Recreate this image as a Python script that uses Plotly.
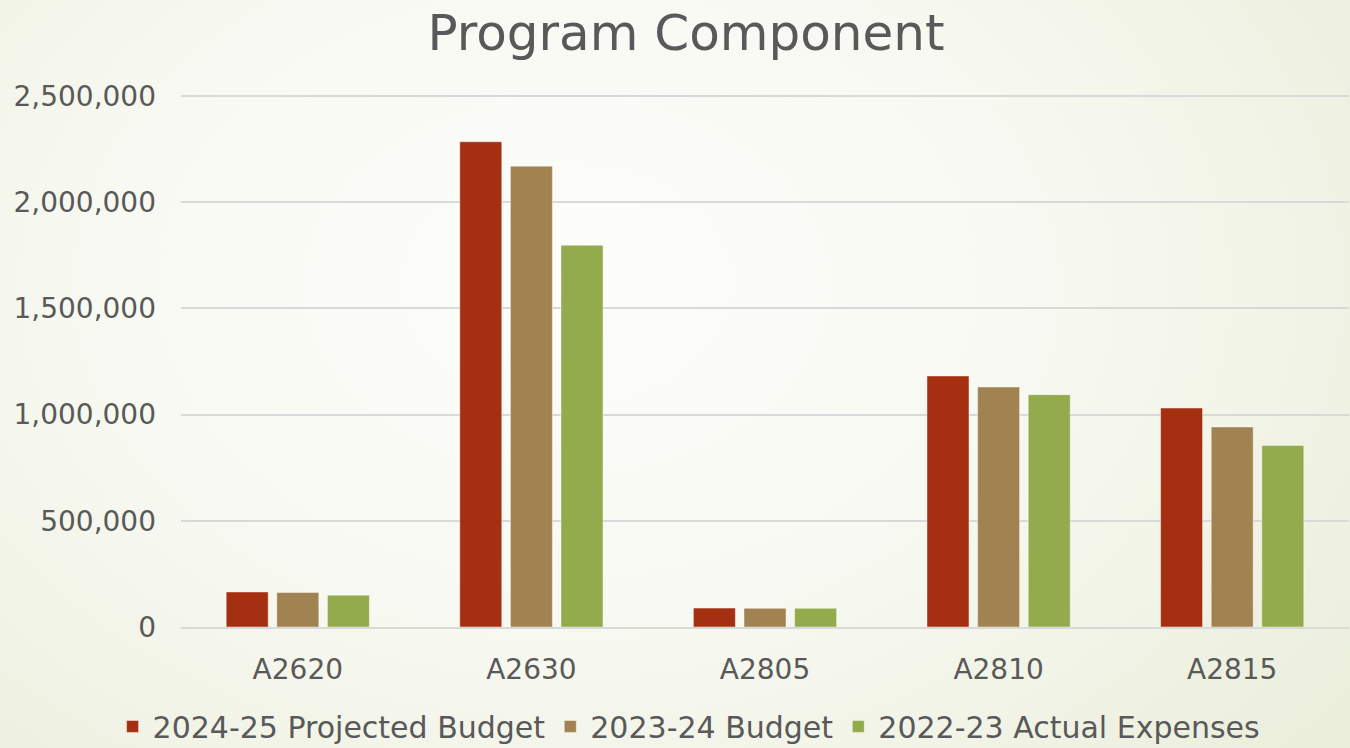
import plotly.graph_objects as go
import base64

categories = ["A2620", "A2630", "A2805", "A2810", "A2815"]
series_names = ["2024-25 Projected Budget", "2023-24 Budget", "2022-23 Actual Expenses"]
projected_2024_25 = [165000, 2285000, 89000, 1182000, 1031000]
budget_2023_24 = [163000, 2170000, 88000, 1130000, 942000]
actual_2022_23 = [150000, 1798000, 88000, 1094000, 855000]
y_ticks = [0, 500000, 1000000, 1500000, 2000000, 2500000]

colors = ["#A42F11", "#A08350", "#93AB4D"]
W, H = 1350, 748
L, R, T, B = 181, 1, 95, 121
pw, ph = W - L - R, H - T - B

svg = f'''<svg xmlns="http://www.w3.org/2000/svg" width="{W}" height="{H}" viewBox="0 0 {W} {H}" preserveAspectRatio="none">
<defs><radialGradient id="g" cx="0.42" cy="0.38" r="0.75" gradientUnits="objectBoundingBox" gradientTransform="translate(0.42 0.38) scale(1 1.3) translate(-0.42 -0.38)">
<stop offset="0" stop-color="#FDFDFB"/><stop offset="0.45" stop-color="#F8F9F2"/><stop offset="1" stop-color="#EAEEDA"/></radialGradient></defs>
<rect width="{W}" height="{H}" fill="url(#g)"/></svg>'''
src = "data:image/svg+xml;base64," + base64.b64encode(svg.encode()).decode()

font = "DejaVu Sans"
txt = "#595959"

fig = go.Figure()
for name, vals, c in zip(series_names, [projected_2024_25, budget_2023_24, actual_2022_23], colors):
    fig.add_trace(go.Bar(x=categories, y=vals, name=name, marker=dict(color=c, line=dict(color="rgba(255,255,255,0.45)", width=1))))

fig.update_layout(
    width=W, height=H, autosize=False,
    margin=dict(l=L, r=R, t=T, b=B, autoexpand=False),
    paper_bgcolor="#F8F9F2",
    plot_bgcolor="rgba(0,0,0,0)",
    barmode="group", bargap=0.35, bargroupgap=0.17,
    title=dict(text="Program Component", x=686 / W, xanchor="center", xref="container", y=1 - 32 / H, yanchor="middle", yref="container",
               font=dict(family=font, size=50, color=txt)),
    font=dict(family=font, color=txt),
    xaxis=dict(tickfont=dict(size=28, color=txt), showline=True, linecolor="#D9D9D9", linewidth=2, ticks="", ticklabelstandoff=16),
    yaxis=dict(range=[0, 2505000], tickvals=y_ticks, tickformat=",d", tickfont=dict(size=28, color=txt),
               gridcolor="#D9D9D9", gridwidth=2, zeroline=False, showline=False, ticklabelstandoff=24),
    legend=dict(orientation="h", x=0.435, xanchor="center", y=-0.138, yanchor="top", font=dict(size=30, color=txt),
                itemwidth=30, bgcolor="rgba(0,0,0,0)"),
    images=[dict(source=src, xref="paper", yref="paper", x=-L / pw, y=1 + T / ph, sizex=W / pw, sizey=H / ph,
                 sizing="stretch", xanchor="left", yanchor="top", layer="below")],
)
fig.write_html("out.html", config={"responsive": False, "displayModeBar": False},
               default_width=f"{W}px", default_height=f"{H}px")

with open("out.html", "r", encoding="utf-8") as f:
    html = f.read()
html = html.replace("<head>", "<head><style>html,body{margin:0;padding:0;overflow:hidden;}</style>", 1)
with open("out.html", "w", encoding="utf-8") as f:
    f.write(html)
